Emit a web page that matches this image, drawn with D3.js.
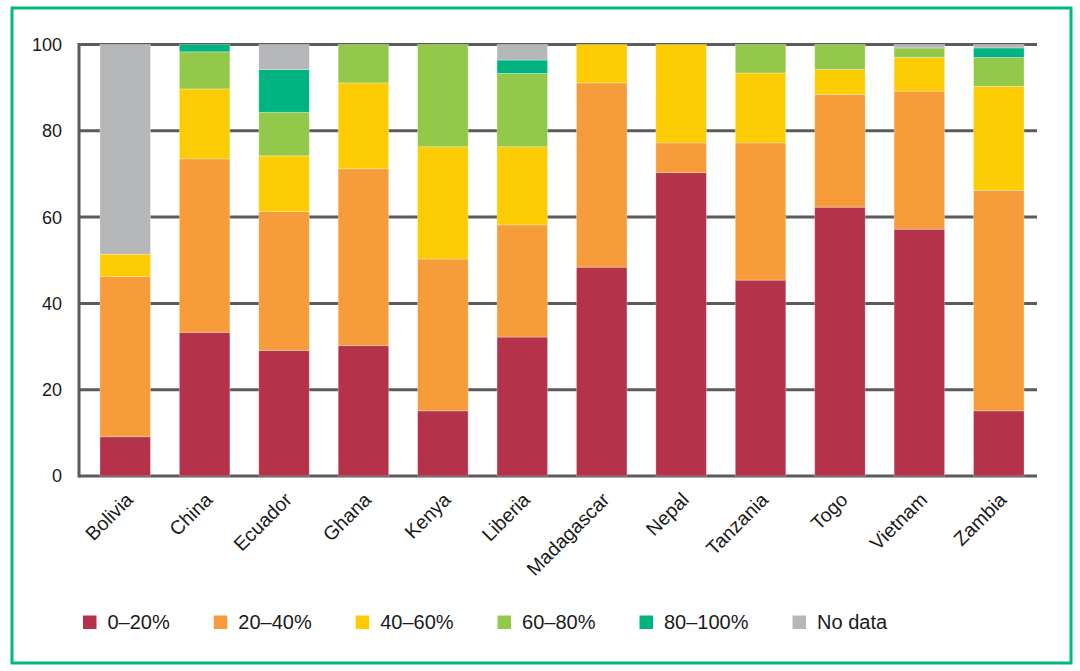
<!DOCTYPE html>
<meta charset="utf-8">
<script src="https://d3js.org/d3.v7.min.js"></script>
<style>
  body { margin: 0; background: #fff; }
  text { font-family: "Liberation Sans", Arial, sans-serif; fill: #1a1a1a; }
</style>
<body>
<div id="chart"></div>
<script>
  // data (share of each band, percent)
  var countries = ["Bolivia", "China", "Ecuador", "Ghana", "Kenya", "Liberia",
                   "Madagascar", "Nepal", "Tanzania", "Togo", "Vietnam", "Zambia"];
  var keys = ["0–20%", "20–40%", "40–60%", "60–80%", "80–100%", "No data"];
  var band0_20   = [9.1, 33.3, 29.1, 30.2, 15.1, 32.2, 48.4, 70.3, 45.4, 62.3, 57.2, 15.1];
  var band20_40  = [37.1, 40.2, 32.2, 41.0, 35.2, 26.0, 42.7, 6.9, 31.8, 26.1, 32.0, 51.1];
  var band40_60  = [5.2, 16.2, 12.9, 19.9, 26.0, 18.1, 8.9, 22.8, 16.2, 5.8, 7.8, 24.1];
  var band60_80  = [0, 8.6, 10.1, 8.9, 23.7, 17.0, 0, 0, 6.6, 5.8, 2.2, 6.7];
  var band80_100 = [0, 1.7, 9.9, 0, 0, 3.1, 0, 0, 0, 0, 0, 2.2];
  var noData     = [48.6, 0, 5.8, 0, 0, 3.6, 0, 0, 0, 0, 0.8, 0.8];
  var yTicks = [0, 20, 40, 60, 80, 100];

  var colors = ["#b5334a", "#f79c3b", "#fecc02", "#93c94a", "#00b380", "#b6b7b9"];

  var width = 1080, height = 671;
  var svg = d3.select("#chart").append("svg")
      .attr("width", width)
      .attr("height", height);

  // green frame
  svg.append("rect")
    .attr("x", 12).attr("y", 8)
    .attr("width", 1059).attr("height", 655)
    .attr("fill", "none")
    .attr("stroke", "#00b982")
    .attr("stroke-width", 3);

  var series = [band0_20, band20_40, band40_60, band60_80, band80_100, noData];
  var rows = countries.map(function(c, i) {
    var r = { country: c };
    keys.forEach(function(k, j) { r[k] = series[j][i]; });
    return r;
  });

  var x = d3.scaleBand()
    .domain(countries)
    .range([85.5, 1038.5])
    .paddingInner(0.364)
    .paddingOuter(0.182);

  var y = d3.scaleLinear()
    .domain([0, 100])
    .range([476, 44.5]);

  var color = d3.scaleOrdinal().domain(keys).range(colors);

  // gridlines
  svg.append("g").selectAll("line")
    .data(yTicks)
    .enter().append("line")
      .attr("x1", 79).attr("x2", 1037)
      .attr("y1", function(d) { return y(d); })
      .attr("y2", function(d) { return y(d); })
      .attr("stroke", "#5b5b5b")
      .attr("stroke-width", 3);

  svg.append("line")
    .attr("x1", 79).attr("x2", 79)
    .attr("y1", y(100) - 1.5).attr("y2", y(0) + 1.5)
    .attr("stroke", "#5b5b5b")
    .attr("stroke-width", 3);

  // y tick labels
  svg.append("g").selectAll("text")
    .data(yTicks)
    .enter().append("text")
      .attr("x", 62)
      .attr("y", function(d) { return y(d); })
      .attr("dy", "0.36em")
      .attr("text-anchor", "end")
      .style("font-size", "18px")
      .text(function(d) { return d; });

  // stacked bars
  var stacked = d3.stack().keys(keys)(rows);

  svg.append("g").selectAll("g")
    .data(stacked)
    .enter().append("g")
      .attr("fill", function(d) { return color(d.key); })
    .selectAll("rect")
    .data(function(d) { return d; })
    .enter().append("rect")
      .attr("x", function(d) { return x(d.data.country); })
      .attr("y", function(d) { return y(d[1]); })
      .attr("width", x.bandwidth())
      .attr("height", function(d) { return y(d[0]) - y(d[1]); })
      .attr("stroke", "#fff")
      .attr("stroke-opacity", 0.35)
      .attr("stroke-width", 0.8);

  // country labels
  svg.append("g").selectAll("text")
    .data(countries)
    .enter().append("text")
      .attr("transform", function(d) {
        return "translate(" + (x(d) + x.bandwidth() / 2 + 9) + "," + 501 + ") rotate(-45)";
      })
      .attr("text-anchor", "end")
      .style("font-size", "19.5px")
      .text(function(d) { return d; });

  // legend
  var legend = svg.append("g");
  var lx = 83;
  keys.forEach(function(k) {
    legend.append("rect")
      .attr("x", lx).attr("y", 615.5)
      .attr("width", 13.5).attr("height", 13.5)
      .attr("fill", color(k));
    var t = legend.append("text")
      .attr("x", lx + 24.5).attr("y", 622)
      .attr("dy", "0.36em")
      .style("font-size", "20px")
      .text(k);
    lx += 24.5 + t.node().getComputedTextLength() + 44;
  });
</script>
</body>
